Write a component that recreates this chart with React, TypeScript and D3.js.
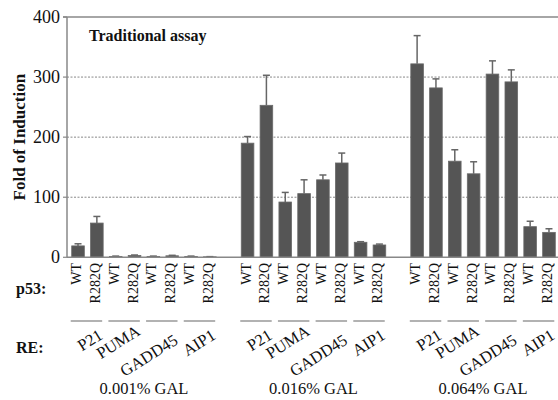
import React from "react";
import * as d3 from "d3";

// Galactose concentrations (one group of bars each)
const concentrations = ["0.001% GAL", "0.016% GAL", "0.064% GAL"];
// Response elements, each measured for two p53 variants
const elements = ["P21", "PUMA", "GADD45", "AIP1"];
const variants = ["WT", "R282Q"];

// Fold of induction per concentration, ordered element by element, WT then R282Q
const foldLow = [19, 57, 1.5, 3, 1.5, 2.5, 1.5, 0.8];
const foldMid = [190, 253, 92, 106, 129, 157, 25, 20.5];
const foldHigh = [322, 282, 160, 139, 305, 292, 51, 41.5];
// Standard deviations (upper whisker only)
const errLow = [3.5, 11, 0.5, 0.8, 0.5, 0.8, 0.5, 0.3];
const errMid = [11, 50, 16, 23, 8, 16.5, 1, 1.5];
const errHigh = [47, 15, 19, 20, 22, 20, 9, 6];

const yTicks = [0, 100, 200, 300, 400];

const W = 558;
const H = 400;
const FONT = "Liberation Serif, Tinos, Times New Roman, DejaVu Serif, serif";

const foldSets = [foldLow, foldMid, foldHigh];
const errSets = [errLow, errMid, errHigh];

type Bar = { key: string; group: number; idx: number; value: number; err: number };

const bars: Bar[] = [];
const slots: string[] = [];
concentrations.forEach((_, g) => {
  if (g > 0) slots.push(`gap${g}`);
  foldSets[g].forEach((v, i) => {
    const key = `${g}-${i}`;
    slots.push(key);
    bars.push({ key, group: g, idx: i, value: v, err: errSets[g][i] });
  });
});

export default function App() {
  const x = d3
    .scaleBand<string>()
    .domain(slots)
    .range([68.6, 558.4])
    .paddingInner(0.33)
    .paddingOuter(0.165);
  const y = d3.scaleLinear().domain([0, 400]).range([257.3, 17]);
  const bw = x.bandwidth();
  const cx = (k: string) => (x(k) as number) + bw / 2;
  const axisX = 67;

  return (
    <svg
      width={W}
      height={H}
      style={{ position: "absolute", left: 0, top: 0, background: "#fff", fontFamily: FONT }}
    >
      {/* grid lines */}
      {yTicks
        .filter((t) => t > 0 && t < 400)
        .map((t) => (
          <line
            key={`g${t}`}
            x1={axisX}
            x2={W}
            y1={y(t)}
            y2={y(t)}
            stroke="#888"
            strokeWidth={1}
            strokeDasharray="2,1.5"
          />
        ))}
      {/* top border */}
      <line x1={axisX - 4} x2={W} y1={y(400)} y2={y(400)} stroke="#888" strokeWidth={1.5} />
      {/* y axis */}
      <line x1={axisX} x2={axisX} y1={y(400)} y2={y(0)} stroke="#888" strokeWidth={1.5} />
      {yTicks.map((t) => (
        <g key={`t${t}`}>
          <line x1={axisX - 4} x2={axisX} y1={y(t)} y2={y(t)} stroke="#888" strokeWidth={1.2} />
          <text x={60} y={y(t) + 6} textAnchor="end" fontSize={18} fill="#111">
            {t}
          </text>
        </g>
      ))}
      <text
        transform={`translate(25,${(y(0) + y(400)) / 2}) rotate(-90)`}
        textAnchor="middle"
        fontSize={17}
        fontWeight="bold"
        fill="#111"
      >
        Fold of Induction
      </text>
      <text x={89} y={41} fontSize={16} fontWeight="bold" fill="#111">
        Traditional assay
      </text>

      {/* bars */}
      {bars.map((b) => (
        <rect
          key={b.key}
          x={x(b.key)}
          y={y(b.value)}
          width={bw}
          height={y(0) - y(b.value)}
          fill="#555"
          stroke="#6a6a6a"
          strokeWidth={0.8}
        />
      ))}
      {/* error bars */}
      {bars.map((b) => {
        const c = cx(b.key);
        const top = y(b.value + b.err);
        return (
          <g key={`e${b.key}`} stroke="#666" strokeWidth={1.5}>
            <line x1={c} x2={c} y1={y(b.value)} y2={top} />
            <line x1={c - 3.5} x2={c + 3.5} y1={top} y2={top} />
          </g>
        );
      })}
      {/* baseline */}
      <line x1={axisX} x2={W} y1={y(0)} y2={y(0)} stroke="#888" strokeWidth={1.5} />

      {/* p53 variant labels */}
      {bars.map((b) => (
        <text
          key={`v${b.key}`}
          transform={`translate(${cx(b.key) + 3},263) rotate(-90)`}
          textAnchor="end"
          fontSize={14}
          fill="#111"
        >
          {variants[b.idx % 2]}
        </text>
      ))}

      {/* response element separators and labels */}
      {concentrations.map((_, g) =>
        elements.map((el, e) => {
          const k0 = `${g}-${e * 2}`;
          const k1 = `${g}-${e * 2 + 1}`;
          const left = (x(k0) as number) - 1;
          const right = (x(k1) as number) + bw - 1;
          const dy = el === "GADD45" ? 343 : el === "PUMA" ? 334 : 338;
          return (
            <g key={`re${g}-${e}`}>
              <line x1={left} x2={right} y1={321} y2={321} stroke="#999" strokeWidth={1.5} />
              <text
                transform={`translate(${right + 1.5},${dy}) rotate(-32)`}
                textAnchor="end"
                fontSize={16.5}
                fill="#111"
              >
                {el}
              </text>
            </g>
          );
        })
      )}

      {/* concentration labels */}
      {concentrations.map((c, g) => {
        const mid = (cx(`${g}-0`) + cx(`${g}-7`)) / 2;
        return (
          <text key={c} x={mid} y={394} textAnchor="middle" fontSize={16.5} fill="#111">
            {c}
          </text>
        );
      })}

      <text x={16} y={293.5} fontSize={16} fontWeight="bold" fill="#111">
        p53:
      </text>
      <text x={16} y={353} fontSize={16} fontWeight="bold" fill="#111">
        RE:
      </text>
    </svg>
  );
}
